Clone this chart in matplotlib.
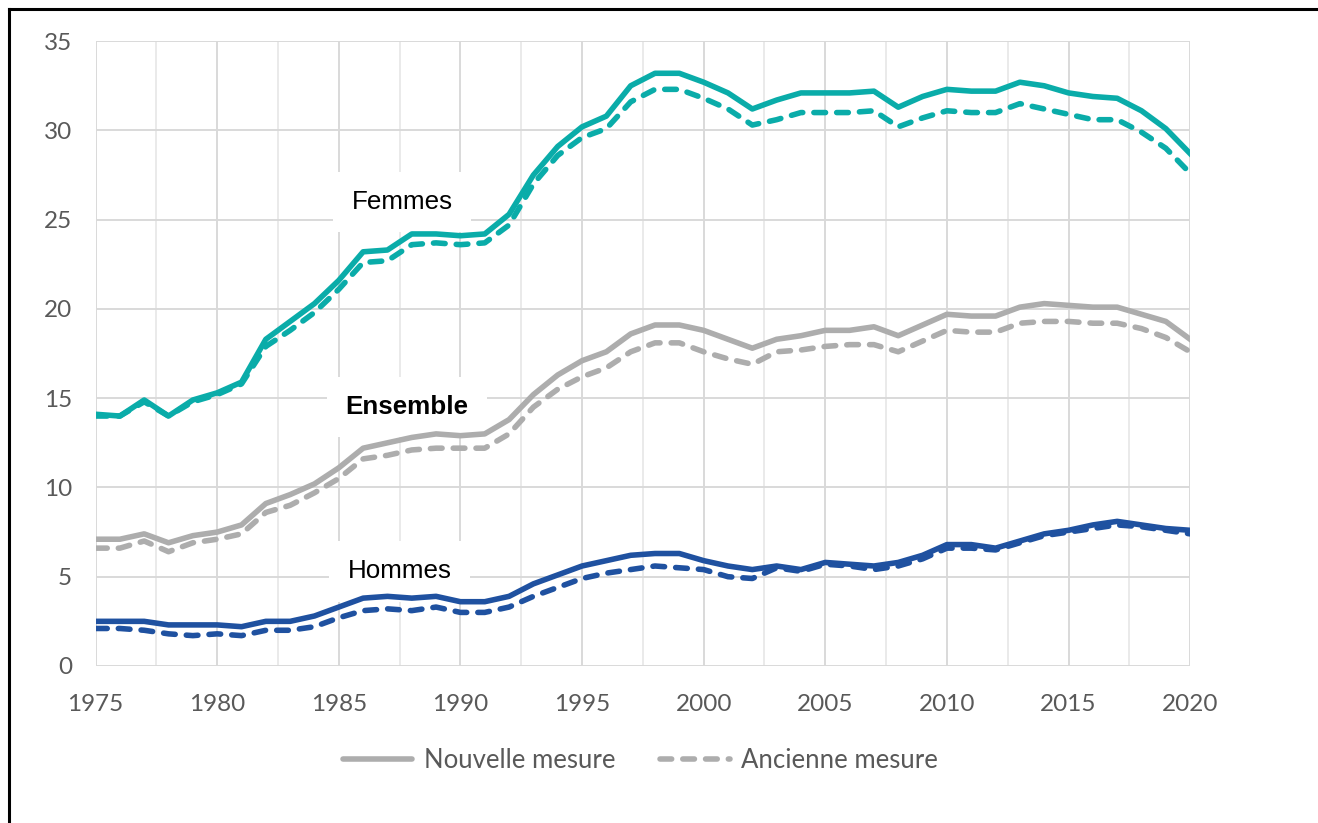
import matplotlib.pyplot as plt
from matplotlib.lines import Line2D
from matplotlib.ticker import MultipleLocator

years = list(range(1975, 2021))

femmes_new = [14.1, 14.0, 14.9, 14.0, 14.9, 15.3, 15.9, 18.3, 19.3, 20.3,
              21.6, 23.2, 23.3, 24.2, 24.2, 24.1, 24.2, 25.3, 27.5, 29.1,
              30.2, 30.8, 32.5, 33.2, 33.2, 32.7, 32.1, 31.2, 31.7, 32.1,
              32.1, 32.1, 32.2, 31.3, 31.9, 32.3, 32.2, 32.2, 32.7, 32.5,
              32.1, 31.9, 31.8, 31.1, 30.1, 28.7]
femmes_old = [14.0, 14.0, 14.8, 14.0, 14.8, 15.2, 15.8, 17.9, 18.8, 19.8,
              21.1, 22.6, 22.7, 23.6, 23.7, 23.6, 23.7, 24.7, 27.0, 28.6,
              29.6, 30.1, 31.6, 32.3, 32.3, 31.8, 31.2, 30.3, 30.6, 31.0,
              31.0, 31.0, 31.1, 30.2, 30.7, 31.1, 31.0, 31.0, 31.5, 31.2,
              30.9, 30.6, 30.6, 29.9, 29.0, 27.6]
ensemble_new = [7.1, 7.1, 7.4, 6.9, 7.3, 7.5, 7.9, 9.1, 9.6, 10.2,
                11.1, 12.2, 12.5, 12.8, 13.0, 12.9, 13.0, 13.8, 15.2, 16.3,
                17.1, 17.6, 18.6, 19.1, 19.1, 18.8, 18.3, 17.8, 18.3, 18.5,
                18.8, 18.8, 19.0, 18.5, 19.1, 19.7, 19.6, 19.6, 20.1, 20.3,
                20.2, 20.1, 20.1, 19.7, 19.3, 18.3]
ensemble_old = [6.6, 6.6, 7.0, 6.4, 6.9, 7.1, 7.4, 8.6, 9.0, 9.7,
                10.5, 11.6, 11.8, 12.1, 12.2, 12.2, 12.2, 13.0, 14.5, 15.5,
                16.2, 16.7, 17.6, 18.1, 18.1, 17.6, 17.2, 16.9, 17.6, 17.7,
                17.9, 18.0, 18.0, 17.6, 18.2, 18.8, 18.7, 18.7, 19.2, 19.3,
                19.3, 19.2, 19.2, 18.9, 18.4, 17.6]
hommes_new = [2.5, 2.5, 2.5, 2.3, 2.3, 2.3, 2.2, 2.5, 2.5, 2.8,
              3.3, 3.8, 3.9, 3.8, 3.9, 3.6, 3.6, 3.9, 4.6, 5.1,
              5.6, 5.9, 6.2, 6.3, 6.3, 5.9, 5.6, 5.4, 5.6, 5.4,
              5.8, 5.7, 5.6, 5.8, 6.2, 6.8, 6.8, 6.6, 7.0, 7.4,
              7.6, 7.9, 8.1, 7.9, 7.7, 7.6]
hommes_old = [2.1, 2.1, 2.0, 1.8, 1.7, 1.8, 1.7, 2.0, 2.0, 2.2,
              2.7, 3.1, 3.2, 3.1, 3.3, 3.0, 3.0, 3.3, 3.9, 4.4,
              4.9, 5.2, 5.4, 5.6, 5.5, 5.4, 5.0, 4.9, 5.5, 5.3,
              5.7, 5.6, 5.4, 5.6, 6.0, 6.6, 6.6, 6.5, 6.9, 7.3,
              7.5, 7.7, 7.9, 7.8, 7.6, 7.4]

TEAL = '#0aaca9'
GREY = '#adadad'
BLUE = '#1f51a0'
TICK = '#595959'
LW = 4.0
DASH = (2.1, 2.0)

fig = plt.figure(figsize=(13.18, 8.23), dpi=100)
ax = fig.add_axes([0.0725, 0.1908, 0.8305, 0.7592])

series = [
    (femmes_new, femmes_old, TEAL),
    (ensemble_new, ensemble_old, GREY),
    (hommes_new, hommes_old, BLUE),
]
for new, old, col in series:
    ax.plot(years, old, color=col, lw=LW, ls=(0, DASH), dash_capstyle='round',
            zorder=3)
    ax.plot(years, new, color=col, lw=LW, solid_joinstyle='round', zorder=4)

ax.set_xlim(1975, 2020)
ax.set_ylim(0, 35)
ax.xaxis.set_major_locator(MultipleLocator(5))
ax.xaxis.set_minor_locator(MultipleLocator(2.5))
ax.yaxis.set_major_locator(MultipleLocator(5))
ax.grid(which='major', color='#d9d9d9', lw=1.4, zorder=0)
ax.grid(which='minor', axis='x', color='#eaeaea', lw=1.4, zorder=0)
ax.set_axisbelow(True)
for s in ax.spines.values():
    s.set_visible(False)
ax.tick_params(which='both', length=0, labelsize=17.5, labelcolor=TICK,
               labelfontfamily='Lato')
ax.tick_params(axis='x', pad=20)
ax.tick_params(axis='y', pad=17)

# labels sit on white boxes that hide the grid
box = dict(facecolor='white', edgecolor='none', boxstyle='square,pad=0.7')
ax.text(1987.6, 26.0, 'Femmes', ha='center', va='center', fontsize=18.7,
        family='Liberation Sans', bbox=box, zorder=2)
ax.text(1987.8, 14.5, 'Ensemble', ha='center', va='center', fontsize=18.7,
        family='Liberation Sans', weight='bold', bbox=box, zorder=2)
ax.text(1987.5, 5.3, 'Hommes', ha='center', va='center', fontsize=18.7,
        family='Liberation Sans', bbox=box, zorder=2)

handles = [Line2D([], [], color=GREY, lw=LW, solid_capstyle='round'),
           Line2D([], [], color=GREY, lw=LW, ls=(0, DASH), dash_capstyle='round')]
leg = fig.legend(handles, ['Nouvelle mesure', 'Ancienne mesure'], loc='center',
                 bbox_to_anchor=(0.486, 0.076), ncol=2, frameon=False,
                 handlelength=2.7, columnspacing=1.75, handletextpad=0.45,
                 prop={'family': 'Lato', 'size': 18.5})
for t in leg.get_texts():
    t.set_color(TICK)

fig.add_artist(Line2D([0.0065, 0.0065], [0, 0.989], color='black', lw=2.2,
                      transform=fig.transFigure))
fig.add_artist(Line2D([0.0065, 1.0], [0.989, 0.989], color='black', lw=2.2,
                      transform=fig.transFigure))

fig.savefig('out.png', dpi=100)
